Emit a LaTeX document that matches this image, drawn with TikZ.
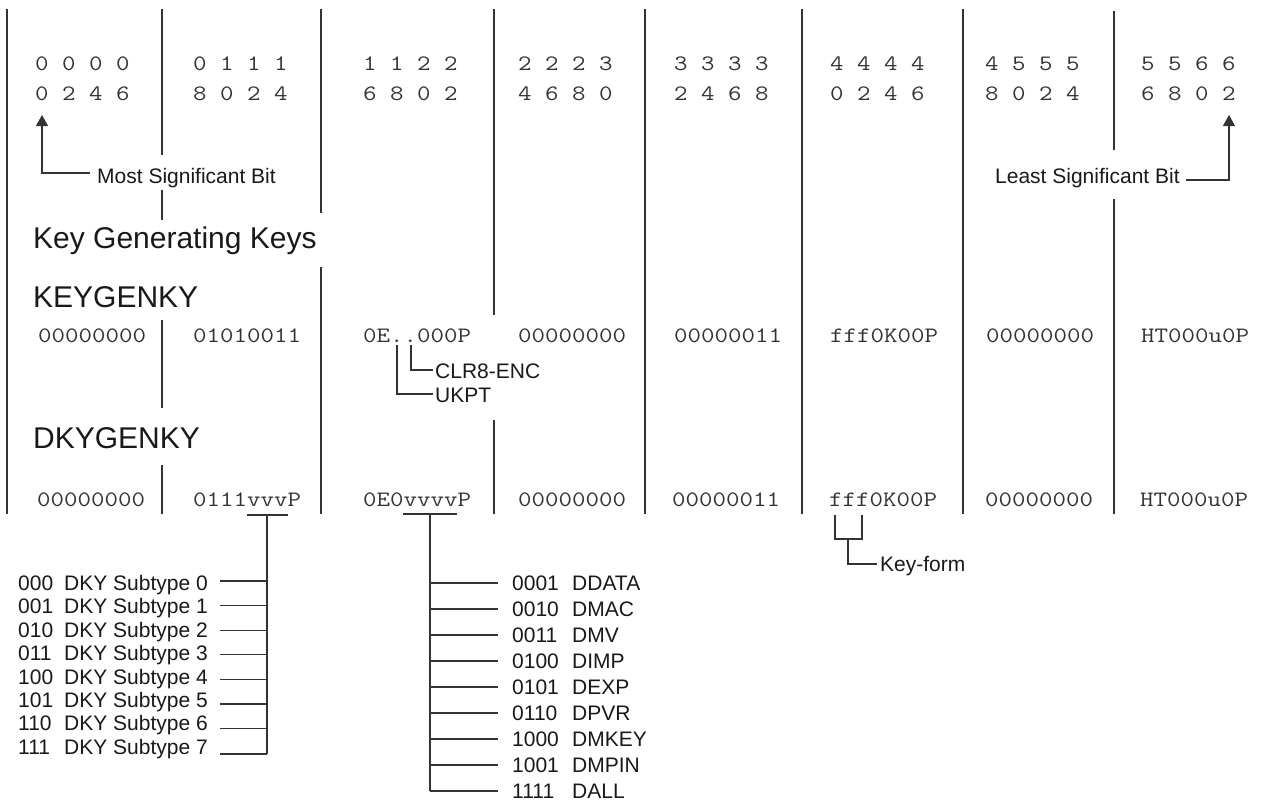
\documentclass[tikz,border=0pt]{standalone}
\usepackage{graphicx}
\usepackage{fontspec}
\setmainfont{Liberation Sans}
\usetikzlibrary{arrows.meta}
\newcommand{\monotxt}[1]{\scalebox{1.19}[1]{#1}}
\begin{document}
\begin{tikzpicture}[x=1pt,y=-1pt,
  divider/.style={draw=black!80,line width=1.2pt},
  lead/.style={draw=black!80,line width=1.2pt},
  mono/.style={font=\ttfamily\fontsize{22}{26}\selectfont,text=black!80,inner sep=0pt,anchor=base west},
  lbl/.style={font=\fontsize{21}{25}\selectfont,text=black!90,inner sep=0pt,anchor=base west},
  ttl/.style={font=\fontsize{30}{36}\selectfont,text=black!90,inner sep=0pt,anchor=base west},
  tipend/.style={-{Triangle[width=12pt,length=11pt]}}
]
\useasboundingbox (0,0) rectangle (1275,801);

% column dividers
\draw[divider] (7,9) -- (7,514);
\draw[divider] (162,9) -- (162,155) (162,190) -- (162,220) (162,320) -- (162,408) (162,465) -- (162,514);
\draw[divider] (321,9) -- (321,213) (321,267) -- (321,514);
\draw[divider] (494,9) -- (494,315) (494,420) -- (494,514);
\draw[divider] (645,9) -- (645,514);
\draw[divider] (802,9) -- (802,514);
\draw[divider] (963,9) -- (963,514);
\draw[divider] (1114,11) -- (1114,150) (1114,199) -- (1114,514);

% bit numbers
\foreach \x/\a/\b [count=\i] in {35/0 0 0 0/0 2 4 6, 193/0 1 1 1/8 0 2 4, 363/1 1 2 2/6 8 0 2, 518/2 2 2 3/4 6 8 0, 674/3 3 3 3/2 4 6 8, 830/4 4 4 4/0 2 4 6, 985/4 5 5 5/8 0 2 4, 1141/5 5 6 6/6 8 0 2}{
  \node[mono] (bt\i) at (\x,70) {\monotxt{\a}};
  \node[mono] (bu\i) at (\x,100) {\monotxt{\b}};
}

% MSB / LSB
\node[lbl] (msb) at (97,183) {Most Significant Bit};
\coordinate (msbA) at (90,173);
\coordinate (msbT) at (42,115);
\draw[lead,tipend] (msbA) -| (msbT);

\node[lbl] (lsb) at (995,183) {Least Significant Bit};
\coordinate (lsbA) at (1186,180);
\coordinate (lsbT) at (1229,115);
\draw[lead,tipend] (lsbA) -| (lsbT);

% titles
\node[ttl] (kgk) at (33,248) {Key Generating Keys};
\node[ttl] (kg) at (33,307) {KEYGENKY};
\node[ttl] (dk) at (33,448) {DKYGENKY};

% row 1
\foreach \x/\t [count=\i] in {38/00000000, 193/01010011, 363/0E..000P, 518/00000000, 674/00000011, 830/fff0K00P, 986/00000000, 1141/HT000u0P}{
  \node[mono] (ra\i) at (\x,342) {\monotxt{\t}};
}
% row 2
\foreach \x/\t [count=\i] in {37/00000000, 193/0111vvvP, 363/0E0vvvvP, 518/00000000, 672/00000011, 829/fff0K00P, 985/00000000, 1140/HT000u0P}{
  \node[mono] (rb\i) at (\x,506) {\monotxt{\t}};
}

% CLR8-ENC / UKPT leaders
\node[lbl] (clr) at (435,378) {CLR8-ENC};
\node[lbl] (ukpt) at (435,402) {UKPT};
\coordinate (dotA) at (397,345);
\coordinate (dotB) at (411,345);
\coordinate (clrE) at (433,370);
\coordinate (ukE) at (433,394);
\draw[lead] (dotB) |- (clrE);
\draw[lead] (dotA) |- (ukE);

% Key-form bracket
\node[lbl] (kf) at (880,571) {Key-form};
\coordinate (kfL) at (835,515);
\coordinate (kfR) at (862,515);
\coordinate (kfM) at (848,539);
\coordinate (kfE) at (877,564);
\draw[lead] (kfL) |- (kfM) -| (kfR);
\draw[lead] (kfM) |- (kfE);

% vvv underline and DKY subtype list
\coordinate (uA1) at (247,515);
\coordinate (uA2) at (288,515);
\coordinate (sA) at (267,515);
\draw[lead] (uA1) -- (uA2);
\foreach \c/\n [count=\i from 0] in {000/0, 001/1, 010/2, 011/3, 100/4, 101/5, 110/6, 111/7}{
  \pgfmathsetmacro{\yt}{583+23.4*\i+7.5}
  \pgfmathsetmacro{\yl}{\i<7 ? 581+24.6*\i : 754}
  \node[lbl] (sub\i) at (18,\yt) {\makebox[46pt][l]{\c}DKY Subtype \n};
  \coordinate (subL\i) at (220,\yl);
  \coordinate (subS\i) at (267,\yl);
  \draw[lead] (subL\i) -- (subS\i);
}
\draw[lead] (sA) -- (subS7);

% vvvv underline and usage list
\coordinate (uB1) at (403,514);
\coordinate (uB2) at (457,514);
\coordinate (sB) at (430,514);
\draw[lead] (uB1) -- (uB2);
\foreach \c/\n [count=\i from 0] in {0001/DDATA, 0010/DMAC, 0011/DMV, 0100/DIMP, 0101/DEXP, 0110/DPVR, 1000/DMKEY, 1001/DMPIN, 1111/DALL}{
  \pgfmathsetmacro{\yl}{583+26*\i}
  \pgfmathsetmacro{\yt}{583+26*\i+7.5}
  \node[lbl] (use\i) at (512,\yt) {\makebox[60pt][l]{\c}\n};
  \coordinate (useS\i) at (430,\yl);
  \coordinate (useE\i) at (498,\yl);
  \draw[lead] (useS\i) -- (useE\i);
}
\draw[lead] (sB) -- (useS8);
\end{tikzpicture}
\end{document}
